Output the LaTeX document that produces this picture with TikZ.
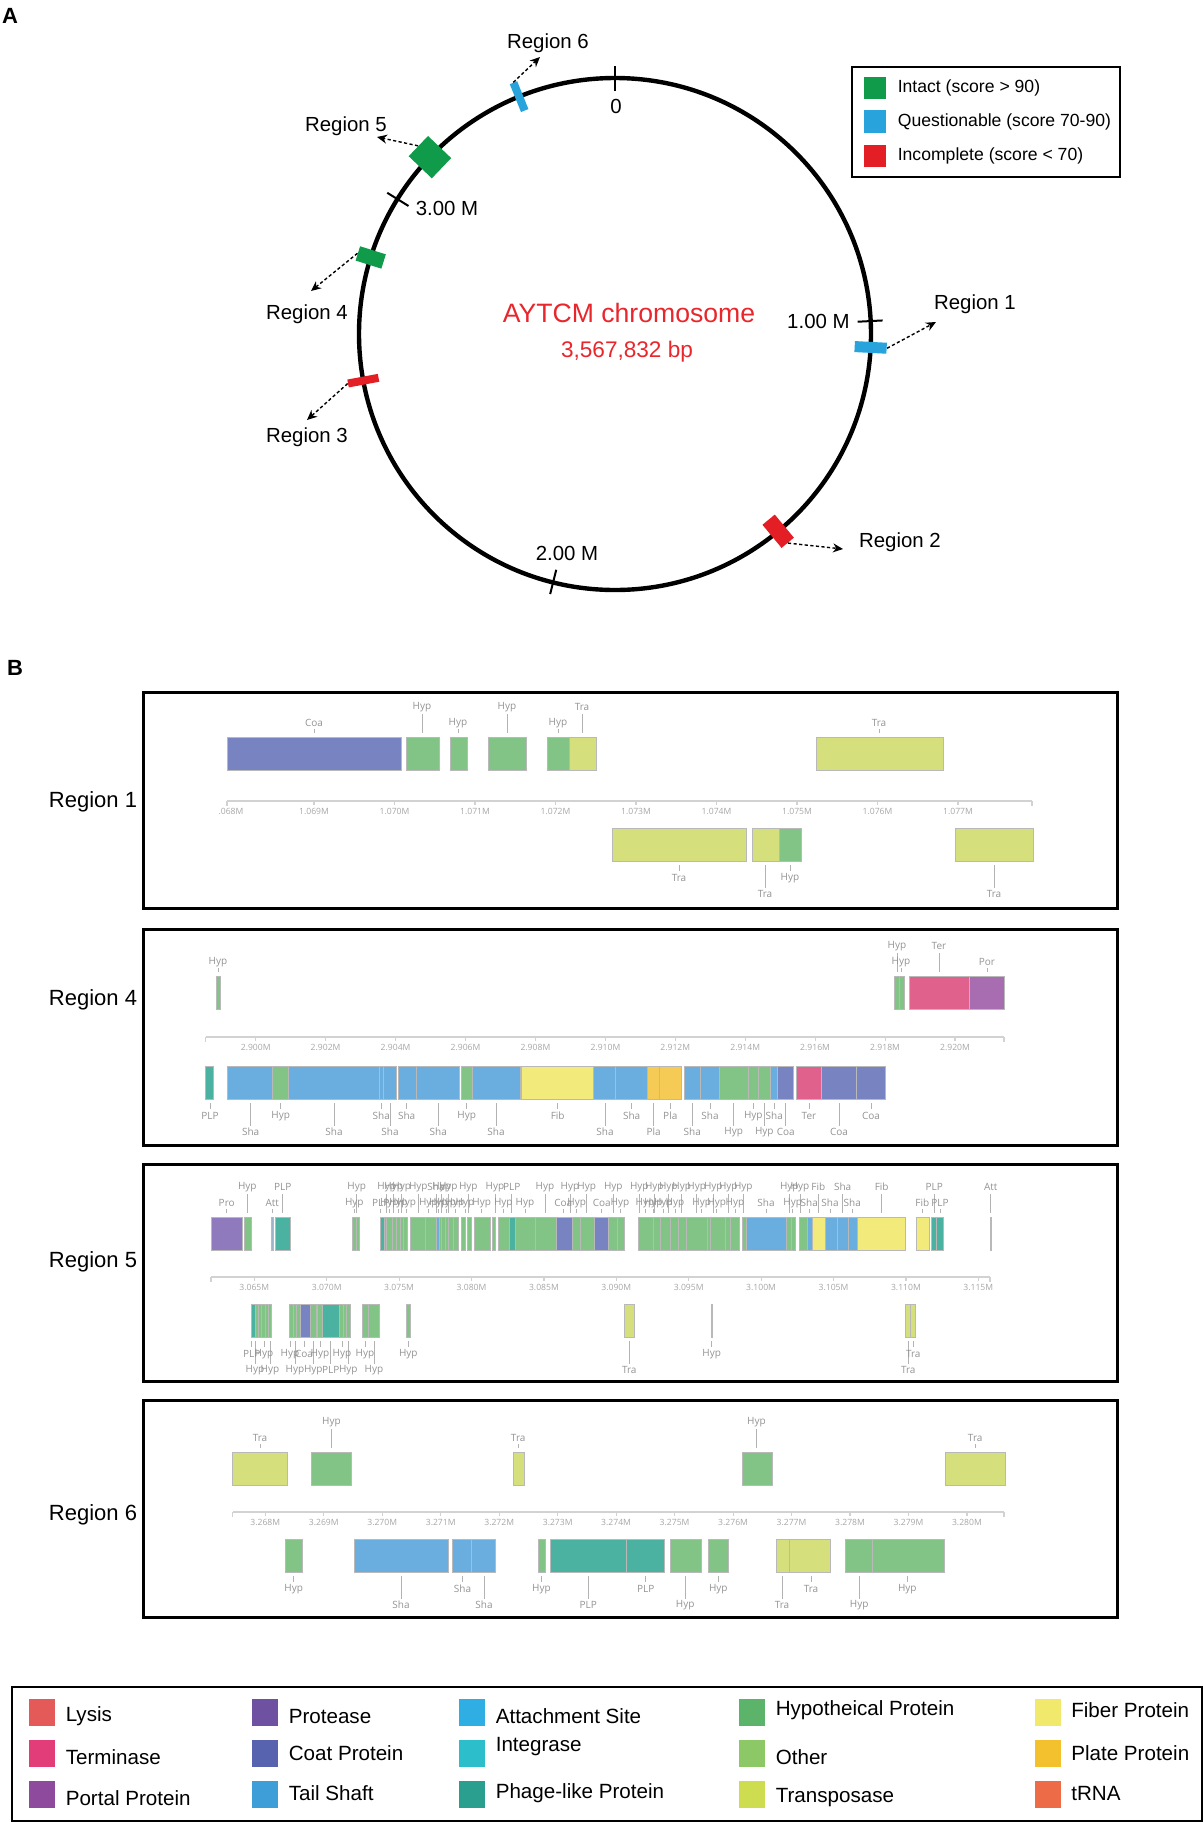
\documentclass[tikz,border=0pt]{standalone}
\usepackage{fontspec}
\setmainfont{Liberation Sans}
\newfontfamily\genefont{Open Sans}
\usepackage{tikz}
\usetikzlibrary{arrows.meta,positioning}

% panel A colours
\definecolor{intactc}{HTML}{0F9B49}
\definecolor{questc}{HTML}{29A3DC}
\definecolor{incompc}{HTML}{E31E25}
\definecolor{chromred}{HTML}{E8262C}
% gene colours
\definecolor{hypc}{HTML}{82C386}
\definecolor{trac}{HTML}{D5DF7B}
\definecolor{coac}{HTML}{7884C1}
\definecolor{shac}{HTML}{6AAEDF}
\definecolor{plpc}{HTML}{4BB2A2}
\definecolor{fibc}{HTML}{F2EA7B}
\definecolor{plac}{HTML}{F5CB56}
\definecolor{terc}{HTML}{E0628C}
\definecolor{porc}{HTML}{A86CB1}
\definecolor{proc}{HTML}{8E7ABD}
\definecolor{attc}{HTML}{9FB4C8}
% key colours
\definecolor{lysisc}{HTML}{E35A59}
\definecolor{termc}{HTML}{E23D79}
\definecolor{portalc}{HTML}{8E4A9D}
\definecolor{proteasec}{HTML}{6E51A0}
\definecolor{coatc}{HTML}{5763AE}
\definecolor{tailc}{HTML}{3E9ED8}
\definecolor{attachc}{HTML}{2EAEE2}
\definecolor{integc}{HTML}{2CBECB}
\definecolor{phagec}{HTML}{2A9F8F}
\definecolor{hypoc}{HTML}{5CB46A}
\definecolor{otherc}{HTML}{8CC866}
\definecolor{transc}{HTML}{CEDC50}
\definecolor{fiberc}{HTML}{F1E96B}
\definecolor{platec}{HTML}{F4C12E}
\definecolor{trnac}{HTML}{EE6B47}

\tikzstyle{chrom} = [line width=2.2pt]
\tikzstyle{tick} = [line width=1pt]
\tikzstyle{marker} = [rectangle, inner sep=0pt, draw=none]
\tikzstyle{pointer} = [line width=0.7pt, dash pattern=on 1.6pt off 1.2pt,
  -{Stealth[length=5pt,width=4.5pt]}]
\tikzstyle{alabel} = [font=\fontsize{10.2}{12}\selectfont, inner sep=1pt]
\tikzstyle{blabel} = [font=\fontsize{11}{13}\selectfont, inner sep=1pt]
\tikzstyle{panel} = [font=\bfseries\fontsize{11}{13}\selectfont, inner sep=0pt]
\tikzstyle{frame} = [draw, line width=1.5pt]
\tikzstyle{keyframe} = [draw, line width=1pt]
\tikzstyle{gene} = [draw=gray!55, line width=0.5pt]
\tikzstyle{gline} = [draw=gray!60, line width=0.5pt]
\tikzstyle{glabel} = [font=\genefont\fontsize{5}{6}\selectfont, text=gray!85, inner sep=0pt]
\tikzstyle{axisline} = [draw=gray!35, line width=0.6pt]
\tikzstyle{axislabel} = [font=\genefont\fontsize{4.3}{5}\selectfont, text=gray!70, inner sep=0pt]
\tikzstyle{swatch} = [rectangle, minimum width=13pt, minimum height=13.5pt, inner sep=0pt]
\tikzstyle{keytext} = [anchor=west, font=\fontsize{10.3}{12}\selectfont, inner sep=0pt]
\tikzstyle{keytexta} = [anchor=west, font=\fontsize{8.8}{10}\selectfont, inner sep=0pt]

% one row of genes: #1 = top, #2 = start/end/colour
\newcommand{\generow}[2]{%
  \foreach \xs/\xe/\col in {#2} {
    \draw[gene, fill=\col] (\xs,#1) rectangle (\xe,{#1+33});
  }}
% labels above the upper row: #1 = row top, #2 = far labels, #3 = near labels
\newcommand{\uplabels}[3]{%
  \foreach \xp/\lab [count=\idx] in {#2} {
    \draw[gline] (\xp,{#1-23}) -- (\xp,{#1-4});
    \node[glabel] (far-#1-\idx) at (\xp,{#1-30}) {\lab};
  }
  \foreach \xp/\lab [count=\idx] in {#3} {
    \draw[gline] (\xp,{#1-8}) -- (\xp,{#1-4});
    \node[glabel] (near-#1-\idx) at (\xp,{#1-14}) {\lab};
  }}
% labels below the lower row: #1 = row bottom, #2 = far labels, #3 = near labels
\newcommand{\lowlabels}[3]{%
  \foreach \xp/\lab [count=\idx] in {#2} {
    \draw[gline] (\xp,{#1+4}) -- (\xp,{#1+27});
    \node[glabel] (lfar-#1-\idx) at (\xp,{#1+33}) {\lab};
  }
  \foreach \xp/\lab [count=\idx] in {#3} {
    \draw[gline] (\xp,{#1+4}) -- (\xp,{#1+10});
    \node[glabel] (lnear-#1-\idx) at (\xp,{#1+17}) {\lab};
  }}
% position axis: #1 = y, #2 = start, #3 = end, #4 = ticks
\newcommand{\genaxis}[4]{%
  \draw[axisline] (#2,#1) -- (#3,#1);
  \draw[axisline] (#2,#1) -- (#2,{#1+5});
  \draw[axisline] (#3,#1) -- (#3,{#1+5});
  \foreach \xp/\lab [count=\idx] in {#4} {
    \draw[axisline] (\xp,#1) -- (\xp,{#1+4});
    \node[axislabel] (ax-#1-\idx) at (\xp,{#1+10.5}) {\lab};
  }}

\begin{document}
\begin{tikzpicture}[x=0.5pt,y=-0.5pt]
  \useasboundingbox (0,0) rectangle (1204,1822);

  % ---------- panel A ----------
  \node[panel] (pa) at (10,16) {A};
  \coordinate (ctr) at (615,334);
  \draw[chrom] (ctr) circle [radius=128pt];

  \foreach \ang/\nm in {90/t0, 2.9/t1, -104/t2, 148.2/t3} {
    \coordinate (\nm a) at ({615+243*cos(\ang)},{334-243*sin(\ang)});
    \coordinate (\nm b) at ({615+268*cos(\ang)},{334-268*sin(\ang)});
    \draw[tick] (\nm a) -- (\nm b);
  }
  \node[alabel] (l0) at (616,106) {0};
  \node[alabel, anchor=east] (l1) at (852,321) {1.00 M};
  \node[alabel] (l2) at (567,553) {2.00 M};
  \node[alabel] (l3) at (447,208) {3.00 M};

  \node[text=chromred, font=\fontsize{13.3}{15}\selectfont] (title) at (629,313) {AYTCM chromosome};
  \node[text=chromred, font=\fontsize{11.3}{13}\selectfont] (size) at (627,352) {3,567,832 bp};

  % prophage regions on the chromosome
  \node[marker, fill=questc, minimum width=16pt, minimum height=5.5pt, rotate=-3]
    (m1) at ({615+256*cos(-3)},{334-256*sin(-3)}) {};
  \node[marker, fill=incompc, minimum width=15pt, minimum height=8pt, rotate=-50.4]
    (m2) at ({615+256*cos(-50.4)},{334-256*sin(-50.4)}) {};
  \node[marker, fill=incompc, minimum width=15.5pt, minimum height=4pt, rotate=190.5]
    (m3) at ({615+256*cos(190.5)},{334-256*sin(190.5)}) {};
  \node[marker, fill=intactc, minimum width=13.5pt, minimum height=7.5pt, rotate=162.6]
    (m4) at ({615+256*cos(162.6)},{334-256*sin(162.6)}) {};
  \node[marker, fill=intactc, minimum width=16pt, minimum height=14pt, rotate=136.3]
    (m5) at ({615+256*cos(136.3)},{334-256*sin(136.3)}) {};
  \node[marker, fill=questc, minimum width=15pt, minimum height=4pt, rotate=112]
    (m6) at ({615+256*cos(112)},{334-256*sin(112)}) {};

  \coordinate (e1) at (936,322);
  \coordinate (e2) at (843,549);
  \coordinate (e3) at (307,420);
  \coordinate (e4) at (311,291);
  \coordinate (e5) at (377,137);
  \coordinate (e6) at (540,57);
  \foreach \k in {1,...,6} {
    \draw[pointer] (m\k.east) -- (e\k);
  }
  \node[alabel] (r1) at (975,304) {Region 1};
  \node[alabel] (r2) at (900,542) {Region 2};
  \node[alabel] (r3) at (307,437) {Region 3};
  \node[alabel] (r4) at (307,314) {Region 4};
  \node[alabel] (r5) at (346,126) {Region 5};
  \node[alabel] (r6) at (548,43) {Region 6};

  % score key
  \draw[keyframe] (852,67) rectangle (1120,177);
  \node[swatch, fill=intactc, minimum width=11pt, minimum height=11pt] (kint) at (875,88) {};
  \node[keytexta, right=5.5pt of kint] (kintt) {Intact (score > 90)};
  \node[swatch, fill=questc, minimum width=11pt, minimum height=11.5pt] (kque) at (875,121.5) {};
  \node[keytexta, right=5.5pt of kque] (kquet) {Questionable (score 70-90)};
  \node[swatch, fill=incompc, minimum width=11pt, minimum height=11pt] (kinc) at (875,156) {};
  \node[keytexta, right=5.5pt of kinc] (kinct) {Incomplete (score < 70)};

  % ---------- panel B ----------
  \node[panel] (pb) at (15,668) {B};

  % Region 1
  \draw[frame] (143,692) rectangle (1117,908);
  \node[blabel] (reg1) at (93,802) {Region 1};
  \generow{737}{227/401/coac, 406/439/hypc, 450/467/hypc, 488/526/hypc, 547/569/hypc,
    569/596/trac, 816/943/trac}
  \uplabels{737}{422/Hyp, 507/Hyp, 582/Tra}{314/Coa, 458/Hyp, 558/Hyp, 879/Tra}
  \genaxis{801}{227}{1032}{314/1.069M, 394.5/1.070M, 475/1.071M, 555.5/1.072M, 636/1.073M,
    716.5/1.074M, 797/1.075M, 877.5/1.076M, 958/1.077M}
  \node[axislabel] (ax-801-0) at (231,811.5) {.068M};
  \generow{828}{612/746/trac, 752/779/trac, 779/801/hypc, 955/1033/trac}
  \lowlabels{861}{765/Tra, 994/Tra}{679/Tra, 790/Hyp}

  % Region 4
  \draw[frame] (143,929) rectangle (1117,1145);
  \node[blabel] (reg4) at (93,1000) {Region 4};
  \generow{976}{216/220.6/hypc, 894/899/hypc, 899/904/hypc, 909/969/terc, 969/1004/porc}
  \uplabels{976}{897/Hyp, 939/Ter}{218/Hyp, 901/Hyp, 987/Por}
  \genaxis{1037}{205.7}{1004}{255.7/2.900M, 325.6/2.902M, 395.6/2.904M, 465.5/2.906M,
    535.4/2.908M, 605.4/2.910M, 675.3/2.912M, 745.2/2.914M, 815.1/2.916M, 885.1/2.918M,
    955/2.920M}
  \generow{1066}{205.7/213.3/plpc, 227.3/272.7/shac, 272.7/288.7/hypc, 288.7/379.3/shac,
    379.3/383/shac, 383/396/shac, 398.3/416.3/shac, 416.3/459/shac, 461.7/472.3/hypc,
    472.3/520.7/shac, 521.7/593.6/fibc, 593.6/615.7/shac, 615.7/647.7/shac, 647.7/659/plac,
    659/681/plac, 684.3/700/shac, 700/719/shac, 719/748.3/hypc, 748.3/758.3/hypc,
    758.3/770.7/hypc, 770.7/777.7/shac, 777.7/793.7/coac, 796.7/821/terc, 821/856.7/coac,
    856.7/885.7/coac}
  \lowlabels{1099}{250.7/Sha, 334/Sha, 390/Sha, 438.3/Sha, 496/Sha, 605/Sha, 653.7/Pla,
    692.3/Sha, 733.7/Hyp, 764.3/Hyp, 785.7/Coa, 839/Coa}{210/PLP, 280.7/Hyp, 381.3/Sha,
    406.7/Sha, 466.7/Hyp, 557.7/Fib, 631.7/Sha, 670.3/Pla, 710/Sha, 753.3/Hyp, 774.3/Sha,
    809/Ter, 871/Coa}

  % Region 5
  \draw[frame] (143,1164) rectangle (1117,1381);
  \node[blabel] (reg5) at (93,1262) {Region 5};
  \generow{1217}{211/242.3/proc, 244/251.7/hypc, 271.7/273/attc, 275/290.7/plpc,
    352.7/356/hypc, 356/359/hypc,
    380.7/384/plpc, 384/386.7/hypc, 386.7/392.3/hypc, 392.3/396/hypc, 396/400/hypc,
    400/403.3/hypc, 403.3/407.3/hypc,
    410.7/425.7/hypc, 425.7/436/hypc, 436/439/shac, 439/441.7/hypc, 441.7/445/hypc,
    445/448.3/hypc, 448.3/453.3/hypc, 453.3/458.3/hypc,
    461.7/465/hypc, 467.7/471/hypc, 474.3/490.7/hypc, 492/495/hypc,
    498.3/509/hypc, 509/515/plpc, 515/535.7/hypc, 535.7/556.7/hypc, 556.7/572.3/coac,
    572.3/580/hypc, 580/594.3/hypc, 594.3/608.3/coac, 608.3/617.3/hypc, 617.3/624/hypc,
    638.3/653.3/hypc, 653.3/660.7/hypc, 660.7/670/hypc, 670/678.3/hypc, 678.3/686/hypc,
    686/707.3/hypc, 707.3/710.7/hypc, 710.7/725/hypc, 725/730.7/hypc, 730.7/739/hypc,
    742.3/746.7/hypc, 746.7/786.7/shac, 786.7/791.7/hypc, 791.7/795.7/hypc,
    799/807.3/hypc, 807.3/812.7/shac, 812.7/825.7/fibc, 825.7/837.3/shac, 837.3/848.3/shac,
    848.3/857.7/shac, 857.7/905.7/fibc,
    916.7/929/fibc, 931.7/936.7/plpc, 936.7/943.3/plpc, 990/991/attc}
  \uplabels{1217}{247.3/Hyp, 282.7/PLP, 356.7/Hyp, 386.7/Hyp, 393.7/Hyp, 401.7/Hyp,
    418.3/Hyp, 436/Sha, 441.7/Hyp, 448.3/Hyp, 468.3/Hyp, 495/Hyp, 511.7/PLP, 545/Hyp,
    570/Hyp, 586.7/Hyp, 613.3/Hyp, 639.3/Hyp, 654.3/Hyp, 668.3/Hyp, 681.7/Hyp, 696.7/Hyp,
    713.3/Hyp, 728.3/Hyp, 743.3/Hyp, 789.3/Hyp, 800/Hyp, 818.3/Fib, 842.7/Sha, 881.7/Fib,
    934.3/PLP, 990.7/Att}{226.7/Pro, 272.3/Att, 354.3/Hyp, 380.7/PLP, 389.3/Hyp,
    398.3/Hyp, 406.7/Hyp, 428.3/Hyp, 438.3/Hyp, 446.7/Hyp, 455/Hyp, 465/Hyp, 481.7/Hyp,
    503.3/Hyp, 525/Hyp, 563.3/Coa, 576.7/Hyp, 601.7/Coa, 620/Hyp, 645/Hyp, 653.3/Hyp,
    663.3/Hyp, 675/Hyp, 701.7/Hyp, 716.7/Hyp, 735/Hyp, 766/Sha, 792.7/Hyp, 809.3/Sha,
    830/Sha, 852.3/Sha, 922.3/Fib, 940/PLP}
  \genaxis{1277}{211}{990}{254.3/3.065M, 326.7/3.070M, 399.1/3.075M, 471.5/3.080M,
    543.9/3.085M, 616.3/3.090M, 688.7/3.095M, 761.1/3.100M, 833.5/3.105M, 905.9/3.110M,
    978.3/3.115M}
  \generow{1304}{251/255.7/plpc, 255.7/258.3/hypc, 258.3/261.7/hypc, 261.7/265/hypc,
    265/268.3/hypc, 268.3/271.7/hypc, 289.7/293.3/hypc, 293.3/296.7/hypc, 296.7/300.7/hypc,
    300.7/310/coac, 310/316.7/hypc, 317.7/322.7/hypc, 322.7/339.3/plpc, 339.3/343.3/hypc,
    343.3/346.7/hypc, 346.7/350.7/hypc, 362.7/368.3/hypc, 368.3/379.3/hypc,
    406.7/410.7/hypc, 624/634.3/trac, 711/712.7/hypc, 905/910/trac, 910/915.7/trac}
  \lowlabels{1337}{255/Hyp, 270/Hyp, 295/Hyp, 313.3/Hyp, 330.7/PLP, 348.3/Hyp, 374/Hyp,
    629.3/Tra, 908.3/Tra}{251.7/PLP, 264/Hyp, 290/Hyp, 304/Coa, 320/Hyp, 342/Hyp,
    365/Hyp, 408.3/Hyp, 711.7/Hyp, 913.3/Tra}

  % Region 6
  \draw[frame] (143,1400) rectangle (1117,1617);
  \node[blabel] (reg6) at (93,1515) {Region 6};
  \generow{1452}{232.8/287.9/trac, 311.7/351.1/hypc, 513.5/524/trac, 742/772.2/hypc,
    945/1005.4/trac}
  \uplabels{1452}{331.4/Hyp, 756.5/Hyp}{260/Tra, 518.2/Tra, 975.2/Tra}
  \genaxis{1512}{232.8}{1004}{265.3/3.268M, 323.8/3.269M, 382.2/3.270M, 440.7/3.271M,
    499.2/3.272M, 557.7/3.273M, 616.1/3.274M, 674.6/3.275M, 733.1/3.276M, 791.5/3.277M,
    850/3.278M, 908.5/3.279M, 966.9/3.280M}
  \generow{1539}{285/302.4/hypc, 354.6/448.6/shac, 452/471.8/shac, 471.8/495/shac,
    538/545.4/hypc, 550.6/626/plpc, 626/664.3/plpc, 670/701/hypc, 708.4/728/hypc,
    776.3/789.6/trac, 789.6/830.8/trac, 845.3/872/hypc, 872/944/hypc}
  \lowlabels{1572}{401/Sha, 484/Sha, 588.3/PLP, 685.2/Hyp, 782/Tra, 859.2/Hyp}{293.7/Hyp,
    462.5/Sha, 541.4/Hyp, 645.8/PLP, 718.3/Hyp, 811/Tra, 907.3/Hyp}

  % ---------- gene key ----------
  \draw[keyframe] (12,1687) rectangle (1202,1821);
  \foreach \nm/\col/\cx/\cy/\dy/\lab in {
      lys/lysisc/42/1712/-2pt/Lysis, ter/termc/42/1753.5/-1.75pt/Terminase,
      por/portalc/42/1794/-2pt/Portal Protein,
      pro/proteasec/265/1712/-2pt/Protease, coa/coatc/265/1753.5/0pt/Coat Protein,
      sha/tailc/265/1794/0.5pt/Tail Shaft,
      att/attachc/472/1712/-2pt/Attachment Site, int/integc/472/1753.5/3.25pt/Integrase,
      plp/phagec/472/1794/0.5pt/Phage-like Protein,
      hyp/hypoc/752/1712/1pt/Hypotheical Protein, oth/otherc/752/1753.5/-1.75pt/Other,
      tra/transc/752/1794/-2pt/Transposase,
      fib/fiberc/1047.5/1712/1pt/Fiber Protein, pla/platec/1047.5/1753.5/0pt/Plate Protein,
      trn/trnac/1047.5/1794/0.5pt/tRNA} {
    \node[swatch, fill=\col] (k\nm) at (\cx,\cy) {};
    \node[keytext, right=5pt of k\nm, yshift=\dy] (k\nm t) {\lab};
  }
\end{tikzpicture}
\end{document}
